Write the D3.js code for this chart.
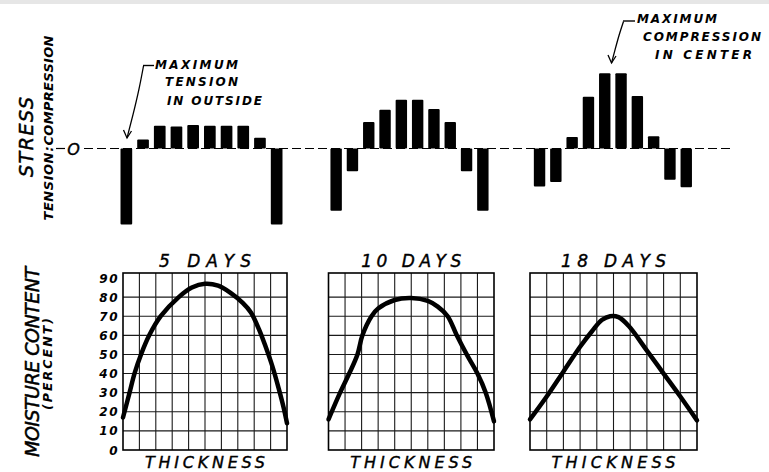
<!DOCTYPE html>
<html>
<head>
<meta charset="utf-8">
<script src="https://cdn.jsdelivr.net/npm/d3@7/dist/d3.min.js"></script>
<style>
  html, body { margin: 0; padding: 0; background: #fff; }
  svg { display: block; }
  text { font-family: "DejaVu Sans", sans-serif; font-style: italic; fill: #000; }
</style>
</head>
<body>
<svg id="chart" width="769" height="472"></svg>
<script>
// Board layers across the thickness, outside to outside
const layers = ["1", "2", "3", "4", "5", "6", "7", "8", "9", "10"];

// Relative drying stress per layer (positive = compression, negative = tension)
const stress5  = [-100, 12, 30, 29, 31, 30, 30, 30, 14, -100];
const stress10 = [-82, -30, 35, 51, 64, 64, 52, 35, -30, -82];
const stress18 = [-50, -44, 15, 68, 99, 99, 69, 16, -41, -51];

// Moisture content profiles: position across thickness (grid columns) and percent
const thick5  = [0, 0.4, 0.7, 1.1, 1.6, 2.3, 3.4, 4.2, 5, 5.8, 6.6, 7.3, 7.8, 8.3, 8.7, 9.1, 9.5, 9.8, 10];
const moist5  = [17, 30, 40, 50, 60, 70, 80, 85, 87, 86, 82, 77, 72, 63, 54, 44, 32, 22, 14];
const thick10 = [0, 0.7, 1.25, 1.75, 2.05, 2.6, 3, 4, 5, 6, 6.6, 7.2, 7.75, 8.35, 9, 9.5, 10];
const moist10 = [16, 30, 40, 50, 60, 70, 74, 78.5, 79.5, 78, 75, 70, 60, 50, 40, 30, 15];
const thick18 = [0, 1, 2, 3, 3.7, 4.3, 4.8, 5.3, 5.9, 7, 8, 9, 10];
const moist18 = [16, 28, 41, 54, 62, 68, 70, 69.5, 65, 52, 40, 28, 15.5];

const dayLabels = ["5 DAYS", "10 DAYS", "18 DAYS"];
const moistureTicks = [0, 10, 20, 30, 40, 50, 60, 70, 80, 90];

const svg = d3.select("#chart");

// thin grey strip along the top edge
svg.append("rect").attr("x", 0).attr("y", 0).attr("width", 769).attr("height", 4).attr("fill", "#e6e6e6");

// heavier pen for the hand-lettered titles
function ink(sel, w) { return sel.attr("stroke", "#000").attr("stroke-width", w); }

// ---------- stress diagrams ----------
const yStress = d3.scaleLinear().domain([-100, 100]).range([224.5, 72.5]);
const zeroY = yStress(0);

// dashed zero line
svg.append("line").attr("x1", 56).attr("x2", 65).attr("y1", zeroY).attr("y2", zeroY)
  .attr("stroke", "#000").attr("stroke-width", 1.2);
svg.append("line").attr("x1", 84).attr("x2", 731).attr("y1", zeroY).attr("y2", zeroY)
  .attr("stroke", "#000").attr("stroke-width", 1.2).attr("stroke-dasharray", "9,4");
ink(svg.append("text").attr("x", 73.5).attr("y", zeroY + 6).attr("text-anchor", "middle")
  .attr("font-size", 16).text("O"), 0.4);

const stressPanels = [
  { values: stress5,  range: [118, 285] },
  { values: stress10, range: [328, 491] },
  { values: stress18, range: [531.4, 694.4] }
];

stressPanels.forEach(p => {
  const x = d3.scaleBand().domain(layers).range(p.range).paddingInner(0.3).paddingOuter(0.15);
  svg.append("g").selectAll("rect").data(p.values).join("rect")
    .attr("x", (d, i) => x(layers[i]))
    .attr("width", x.bandwidth())
    .attr("y", d => yStress(Math.max(0, d)))
    .attr("height", d => Math.abs(yStress(d) - yStress(0)))
    .attr("rx", 1)
    .attr("fill", "#000");
});

// stress axis titles
ink(svg.append("text").attr("transform", "translate(33,137) rotate(-90)")
  .attr("text-anchor", "middle").attr("font-size", 19)
  .attr("textLength", 80).attr("lengthAdjust", "spacing").text("STRESS"), 0.5);
svg.append("text").attr("transform", `translate(52.5,${zeroY + 4}) rotate(-90)`)
  .attr("text-anchor", "end").attr("font-size", 13).attr("font-weight", "bold")
  .attr("textLength", 68).attr("lengthAdjust", "spacing").text("TENSION");
svg.append("text").attr("transform", `translate(52.5,${zeroY - 3}) rotate(-90)`)
  .attr("text-anchor", "start").attr("font-size", 13).attr("font-weight", "bold")
  .attr("textLength", 110).attr("lengthAdjust", "spacing").text("COMPRESSION");
svg.append("text").attr("transform", `translate(52.5,${zeroY + 0.5}) rotate(-90)`)
  .attr("text-anchor", "middle").attr("font-size", 13).attr("font-weight", "bold").text(":");

// annotations with leader arrows
function note(lines, stub, path, tip) {
  lines.forEach(l => {
    svg.append("text").attr("x", l.x).attr("y", l.y).attr("font-size", 12)
      .attr("font-weight", "bold").attr("textLength", l.w).attr("lengthAdjust", "spacing").text(l.t);
  });
  svg.append("line").attr("x1", stub[0]).attr("x2", stub[1]).attr("y1", stub[2]).attr("y2", stub[2])
    .attr("stroke", "#000").attr("stroke-width", 1.4);
  svg.append("path").attr("d", d3.line().curve(d3.curveBasis)(path))
    .attr("fill", "none").attr("stroke", "#000").attr("stroke-width", 1.3);
  const [tx, ty] = tip;
  svg.append("path").attr("d", `M${tx - 3.5},${ty - 8} L${tx},${ty} L${tx + 4.5},${ty - 7}`)
    .attr("fill", "none").attr("stroke", "#000").attr("stroke-width", 1.3);
}

note(
  [{ t: "MAXIMUM", x: 155, y: 69, w: 83 },
   { t: "TENSION", x: 165, y: 86, w: 73 },
   { t: "IN OUTSIDE", x: 167, y: 104.5, w: 95 }],
  [143, 154, 65.5],
  [[143.5, 66], [139, 90], [133, 115], [127, 138]],
  [127, 138]
);
note(
  [{ t: "MAXIMUM", x: 637, y: 23, w: 80 },
   { t: "COMPRESSION", x: 643, y: 40.5, w: 118 },
   { t: "IN CENTER", x: 655, y: 58.5, w: 97 }],
  [623, 635, 21],
  [[623.5, 21.5], [619, 35], [615, 50], [611.5, 63]],
  [611.5, 63]
);

// ---------- moisture content profiles ----------
const yMoist = d3.scaleLinear().domain([0, 90]).range([450, 278]);
const frameTop = 273;

const moisturePanels = [
  { thick: thick5,  moist: moist5,  range: [123, 287],   title: dayLabels[0], tw: 92,  th: 120 },
  { thick: thick10, moist: moist10, range: [328.5, 494], title: dayLabels[1], tw: 100, th: 122 },
  { thick: thick18, moist: moist18, range: [530, 697],   title: dayLabels[2], tw: 105, th: 124 }
];

moisturePanels.forEach(p => {
  const x = d3.scaleLinear().domain([0, 10]).range(p.range);
  const g = svg.append("g");
  // grid
  g.selectAll("line.v").data(d3.range(1, 10)).join("line")
    .attr("x1", d => x(d)).attr("x2", d => x(d)).attr("y1", frameTop).attr("y2", yMoist(0))
    .attr("stroke", "#1a1a1a").attr("stroke-width", 1.1);
  g.selectAll("line.h").data(moistureTicks.filter(t => t > 0 && t < 90)).join("line")
    .attr("x1", p.range[0]).attr("x2", p.range[1]).attr("y1", d => yMoist(d)).attr("y2", d => yMoist(d))
    .attr("stroke", "#1a1a1a").attr("stroke-width", 1.1);
  g.append("rect").attr("x", p.range[0]).attr("y", frameTop)
    .attr("width", p.range[1] - p.range[0]).attr("height", yMoist(0) - frameTop)
    .attr("fill", "none").attr("stroke", "#000").attr("stroke-width", 1.6);
  // profile
  const pts = p.thick.map((t, i) => [x(t), yMoist(p.moist[i])]);
  g.append("path").attr("d", d3.line().curve(d3.curveCatmullRom.alpha(0.5))(pts))
    .attr("fill", "none").attr("stroke", "#000").attr("stroke-width", 4.5)
    .attr("stroke-linecap", "round").attr("stroke-linejoin", "round");
  // titles
  const cx = (p.range[0] + p.range[1]) / 2;
  ink(g.append("text").attr("x", cx).attr("y", 267).attr("text-anchor", "middle")
    .attr("font-size", 17).attr("textLength", p.tw).attr("lengthAdjust", "spacing").text(p.title), 0.4);
  ink(g.append("text").attr("x", cx).attr("y", 467.5).attr("text-anchor", "middle")
    .attr("font-size", 16).attr("textLength", p.th).attr("lengthAdjust", "spacing").text("THICKNESS"), 0.4);
});

// moisture tick labels on the first panel
svg.append("g").selectAll("text").data(moistureTicks).join("text")
  .attr("x", 119).attr("y", d => yMoist(d) + 4.5).attr("text-anchor", "end")
  .attr("font-size", 12).attr("font-weight", "bold").attr("letter-spacing", 1.5)
  .text(d => d);

ink(svg.append("text").attr("transform", "translate(39,362) rotate(-90)")
  .attr("text-anchor", "middle").attr("font-size", 19)
  .attr("textLength", 190).attr("lengthAdjust", "spacing").text("MOISTURE CONTENT"), 0.5);
svg.append("text").attr("transform", "translate(51.5,364) rotate(-90)")
  .attr("text-anchor", "middle").attr("font-size", 12.5).attr("font-weight", "bold")
  .attr("textLength", 92).attr("lengthAdjust", "spacing").text("(PERCENT)");
</script>
</body>
</html>
